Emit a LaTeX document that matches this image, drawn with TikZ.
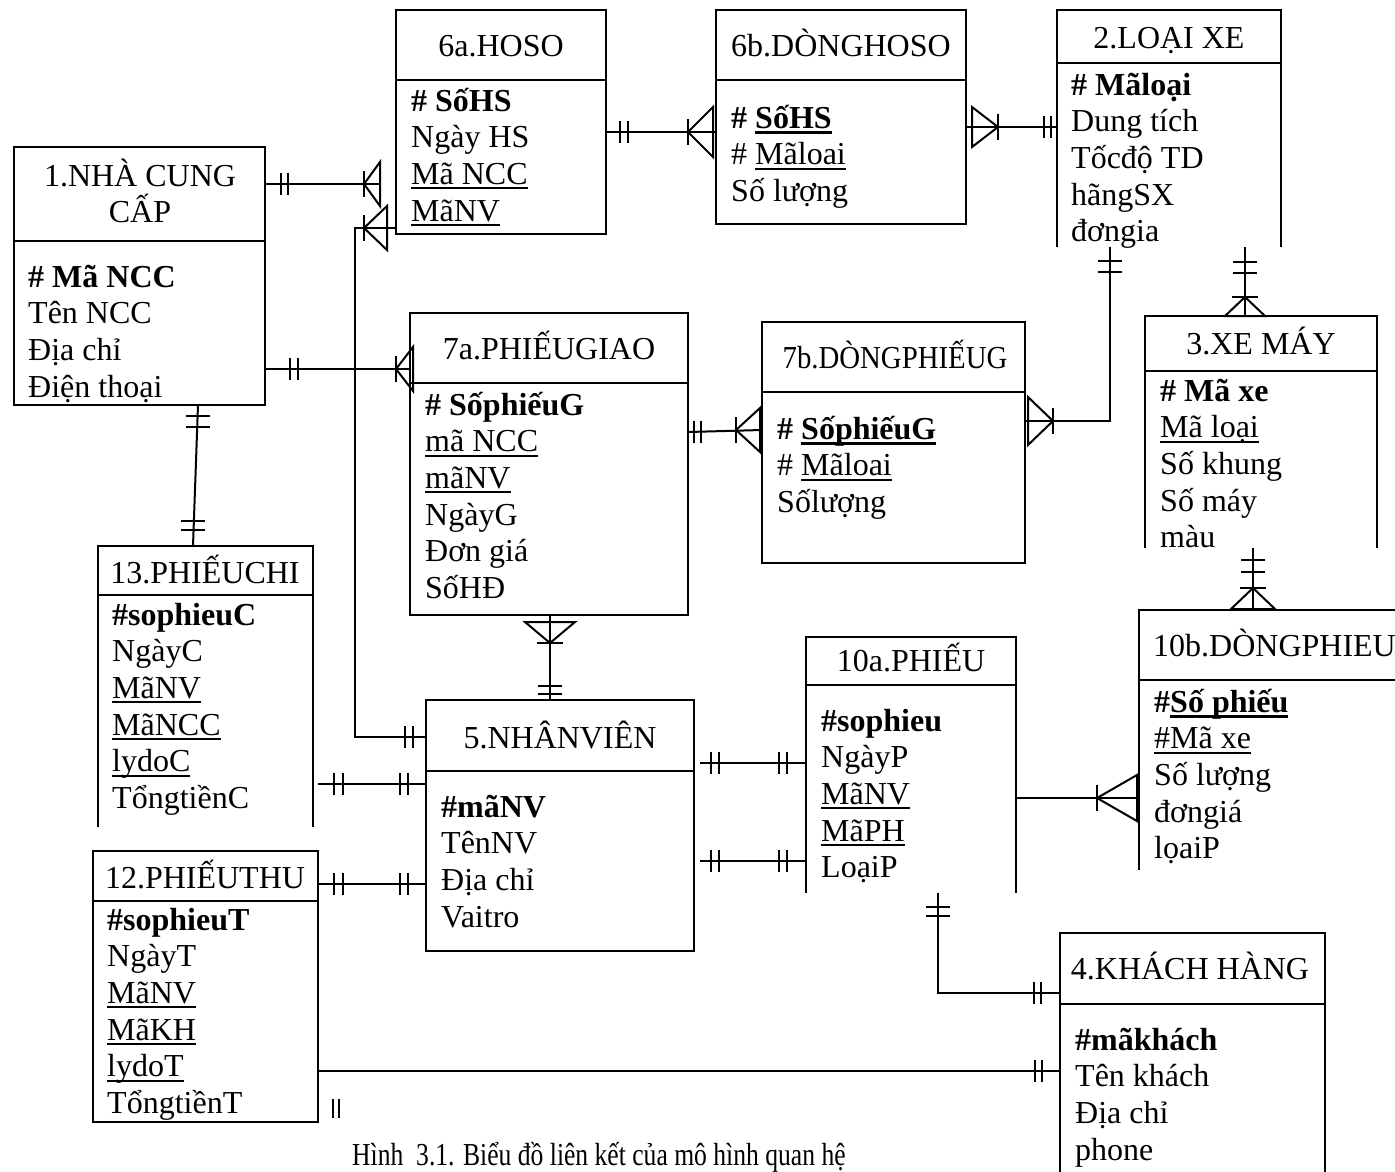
\documentclass[tikz,border=0pt]{standalone}
\usepackage{graphicx}
\usepackage{fontspec}
\setmainfont{Liberation Serif}
\usetikzlibrary{fit}

\newsavebox\ulbox
% underlined field names (thin and bold variants)
\newcommand\ul[1]{\sbox\ulbox{#1}\rlap{\rule[-5pt]{\wd\ulbox}{2pt}}\usebox\ulbox}
\newcommand\ulb[1]{\sbox\ulbox{#1}\rlap{\rule[-6pt]{\wd\ulbox}{3pt}}\usebox\ulbox}

\tikzset{
  ent/.style={draw, line width=2.5pt, inner sep=0pt, outer sep=0pt},
  edge/.style={line width=2.5pt},
  cn/.style={line width=2pt},
  ttl/.style={inner sep=0pt, anchor=base, font=\fontsize{32}{36}\selectfont},
  fld/.style={inner sep=0pt, anchor=base west, font=\fontsize{32}{36}\selectfont},
}

% closed entity box: name, x1, y1, x2, y2, header line y
\newcommand\entbox[6]{%
  \coordinate (#1-nw) at (#2,#3);
  \coordinate (#1-se) at (#4,#5);
  \node[fit=(#1-nw)(#1-se), ent] (#1) {};
  \draw[edge] (#2,#6) -- (#4,#6);}
% entity box whose sides run out without a bottom edge
\newcommand\entopen[6]{%
  \coordinate (#1-nw) at (#2,#3);
  \coordinate (#1-se) at (#4,#5);
  \node[fit=(#1-nw)(#1-se), inner sep=0pt, outer sep=0pt] (#1) {};
  \draw[edge] (#1.south west) -- (#1.north west) -- (#1.north east) -- (#1.south east);
  \draw[edge] (#2,#6) -- (#4,#6);}
% attribute list: name, x, centre of first row, items
\newcommand\fields[4]{%
  \foreach \t [count=\i from 0] in {#4}
    \node[fld] (#1-f\i) at (#2,{#3+11+36.7*\i}) {\t};}
% cardinality marks
\newcommand\tickx[2]{\draw[cn] (#1,{#2-11}) -- (#1,{#2+11});}
\newcommand\ticky[2]{\draw[cn] ({#1-12},#2) -- ({#1+12},#2);}
% crow's foot on a horizontal line: apex x, y, base x, half height
\newcommand\crowH[4]{%
  \draw[cn] (#1,#2) -- (#3,{#2-#4}) -- (#3,{#2+#4}) -- cycle;
  \draw[cn] (#1,{#2-13}) -- (#1,{#2+13});}
% crow's foot on a vertical line: x, apex y, base y, half width
\newcommand\crowV[4]{%
  \draw[cn] (#1,#2) -- ({#1-#4},#3) -- ({#1+#4},#3) -- cycle;
  \draw[cn] ({#1-13},#2) -- ({#1+13},#2);}

\begin{document}
\begin{tikzpicture}[x=1pt,y=-1pt]
\useasboundingbox (0,0) rectangle (1395,1171);

% ---------- entities ----------
\entbox{ncc}{14}{147}{265}{405}{241}
\node[ttl] (ncc-t) at (140,186) {1.NHÀ CUNG};
\node[ttl] (ncc-t2) at (140,222) {CẤP};
\fields{ncc}{28}{276}{\textbf{\# Mã NCC}, Tên NCC, Địa chỉ, Điện thoại}

\entbox{hoso}{396}{10}{606}{234}{80}
\node[ttl] (hoso-t) at (501,56) {6a.HOSO};
\fields{hoso}{411}{100}{\textbf{\# SốHS}, Ngày HS, \ul{Mã NCC}, \ul{MãNV}}

\entbox{dhs}{716}{10}{966}{224}{80}
\node[ttl] (dhs-t) at (841,56) {6b.DÒNGHOSO};
\fields{dhs}{731}{117}{\textbf{\# \ulb{SốHS}}, \# \ul{Mãloai}, Số lượng}

\entopen{lx}{1057}{10}{1281}{247}{63}
\node[ttl] (lx-t) at (1169,48) {2.LOẠI XE};
\fields{lx}{1071}{84}{\textbf{\# Mãloại}, Dung tích, Tốcđộ TD, hãngSX, đơngia}

\entopen{xm}{1145}{316}{1377}{548}{371}
\node[ttl] (xm-t) at (1261,354) {3.XE MÁY};
\fields{xm}{1160}{390}{\textbf{\# Mã xe}, \ul{Mã loại}, Số khung, Số máy, màu}

\entopen{dp}{1139}{610}{1420}{870}{680}
\node[fld] (dp-t) at (1153,656) {10b.DÒNGPHIEU};
\fields{dp}{1154}{701}{\textbf{\#\ulb{Số phiếu}}, \ul{\#Mã xe}, Số lượng, đơngiá, lọaiP}

\entbox{pg}{410}{313}{688}{615}{383}
\node[ttl] (pg-t) at (549,359) {7a.PHIẾUGIAO};
\fields{pg}{425}{404}{\textbf{\# SốphiếuG}, \ul{mã NCC}, \ul{mãNV}, NgàyG, Đơn giá, SốHĐ}

\entbox{dpg}{762}{322}{1025}{563}{392}
\node[ttl] (dpg-t) at (895,368) {\scalebox{0.9}[1]{7b.DÒNGPHIẾUG}};
\fields{dpg}{777}{428}{\textbf{\# \ulb{SốphiếuG}}, \# \ul{Mãloai}, Sốlượng}

\entopen{pc}{98}{546}{313}{827}{595}
\node[ttl] (pc-t) at (205,583) {13.PHIẾUCHI};
\fields{pc}{112}{614}{\textbf{\#sophieuC}, NgàyC, \ul{MãNV}, \ul{MãNCC}, \ul{lydoC}, TổngtiềnC}

\entbox{pt}{93}{851}{318}{1122}{901}
\node[ttl] (pt-t) at (205,888) {12.PHIẾUTHU};
\fields{pt}{107}{919}{\textbf{\#sophieuT}, NgàyT, \ul{MãNV}, \ul{MãKH}, \ul{lydoT}, TổngtiềnT}

\entbox{nv}{426}{700}{694}{951}{771}
\node[ttl] (nv-t) at (560,748) {5.NHÂNVIÊN};
\fields{nv}{441}{806}{\textbf{\#mãNV}, TênNV, Địa chỉ, Vaitro}

\entopen{ph}{806}{637}{1016}{893}{685}
\node[ttl] (ph-t) at (911,671) {10a.PHIẾU};
\fields{ph}{821}{720}{\textbf{\#sophieu}, NgàyP, \ul{MãNV}, \ul{MãPH}, LoạiP}

\entopen{kh}{1060}{933}{1325}{1210}{1004}
\node[ttl] (kh-t) at (1190,979) {4.KHÁCH HÀNG};
\fields{kh}{1075}{1039}{\textbf{\#mãkhách}, Tên khách, Địa chỉ, phone}

% ---------- relationships ----------
% NCC - HOSO
\draw[cn, shorten >=16pt] (ncc.east |- 0,184) -- (hoso.west |- 0,184);
\tickx{281}{184}\tickx{288}{184}
\crowH{364}{184}{380}{22}
% NHANVIEN - HOSO
\draw[cn] (nv.west |- 0,737) -| (355,228) -- (hoso.west |- 0,228);
\tickx{405}{737}\tickx{413}{737}
\crowH{364}{228}{387}{22}
% NCC - PHIEUGIAO
\draw[cn] (ncc.east |- 0,369) -- (pg.west |- 0,369);
\tickx{290}{369}\tickx{298}{369}
\crowH{396}{369}{413}{22}
% NCC - PHIEUCHI
\draw[cn] (198,0 |- ncc.south) -- (193,0 |- pc.north);
\ticky{198}{416}\ticky{198}{427}
\ticky{193}{521}\ticky{193}{530}
% HOSO - DONGHOSO
\draw[cn] (hoso.east |- 0,132) -- (dhs.west |- 0,132);
\tickx{620}{132}\tickx{628}{132}
\crowH{688}{132}{713}{25}
% DONGHOSO - LOAIXE
\draw[cn] (dhs.east |- 0,127) -- (lx.west |- 0,127);
\crowH{998}{127}{972}{20}
\tickx{1044}{127}\tickx{1051}{127}
% LOAIXE - DONGPHIEUG
\draw[cn] (1110,0 |- lx.south) -- (1110,421) -- (dpg.east |- 0,421);
\ticky{1110}{261}\ticky{1110}{272}
\crowH{1053}{421}{1028}{24}
% LOAIXE - XEMAY
\draw[cn] (1245,0 |- lx.south) -- (1245,0 |- xm.north);
\ticky{1245}{262}\ticky{1245}{273}
\crowV{1245}{297}{316}{20}
% XEMAY - DONGPHIEU
\draw[cn] (1253,0 |- xm.south) -- (1253,0 |- dp.north);
\ticky{1253}{560}\ticky{1253}{572}
\crowV{1253}{588}{609}{22}
% PHIEUGIAO - DONGPHIEUG
\draw[cn] (pg.east |- 0,432) -- (dpg.west |- 0,430);
\tickx{694}{432}\tickx{701}{432}
\crowH{736}{430}{760}{22}
% PHIEUGIAO - NHANVIEN
\draw[cn] (550,0 |- pg.south) -- (550,0 |- nv.north);
\crowV{550}{643}{622}{25}
\ticky{550}{686}\ticky{550}{694}
% PHIEUCHI - NHANVIEN
\draw[cn, shorten <=5pt] (pc.east |- 0,784) -- (nv.west |- 0,784);
\tickx{334}{784}\tickx{343}{784}
\tickx{400}{784}\tickx{408}{784}
% PHIEUTHU - NHANVIEN
\draw[cn] (pt.east |- 0,884) -- (nv.west |- 0,884);
\tickx{334}{884}\tickx{343}{884}
\tickx{400}{884}\tickx{408}{884}
% NHANVIEN - PHIEU
\draw[cn, shorten <=6pt] (nv.east |- 0,763) -- (ph.west |- 0,763);
\tickx{711}{763}\tickx{719}{763}
\tickx{779}{763}\tickx{787}{763}
\draw[cn, shorten <=6pt] (nv.east |- 0,861) -- (ph.west |- 0,861);
\tickx{711}{861}\tickx{719}{861}
\tickx{779}{861}\tickx{787}{861}
% PHIEU - DONGPHIEU
\draw[cn] (ph.east |- 0,798) -- (dp.west |- 0,798);
\crowH{1097}{798}{1137}{23}
% PHIEU - KHACHHANG
\draw[cn] (938,0 |- ph.south) -- (938,993) -- (kh.west |- 0,993);
\ticky{938}{907}\ticky{938}{916}
\tickx{1034}{993}\tickx{1041}{993}
% PHIEUTHU - KHACHHANG
\draw[cn] (pt.east |- 0,1071) -- (kh.west |- 0,1071);
\tickx{1035}{1071}\tickx{1042}{1071}
% loose double stroke under PHIEUTHU
\draw[line width=1.5pt] (333,1099) -- (333,1118) (339,1099) -- (339,1118);

% ---------- caption ----------
\node[anchor=base west, inner sep=0pt, font=\fontsize{32}{36}\selectfont] (cap) at (352,1165)
  {\scalebox{0.8}[1]{Hình\ \ 3.1. Biểu đồ liên kết của mô hình quan hệ}};
\end{tikzpicture}
\end{document}
